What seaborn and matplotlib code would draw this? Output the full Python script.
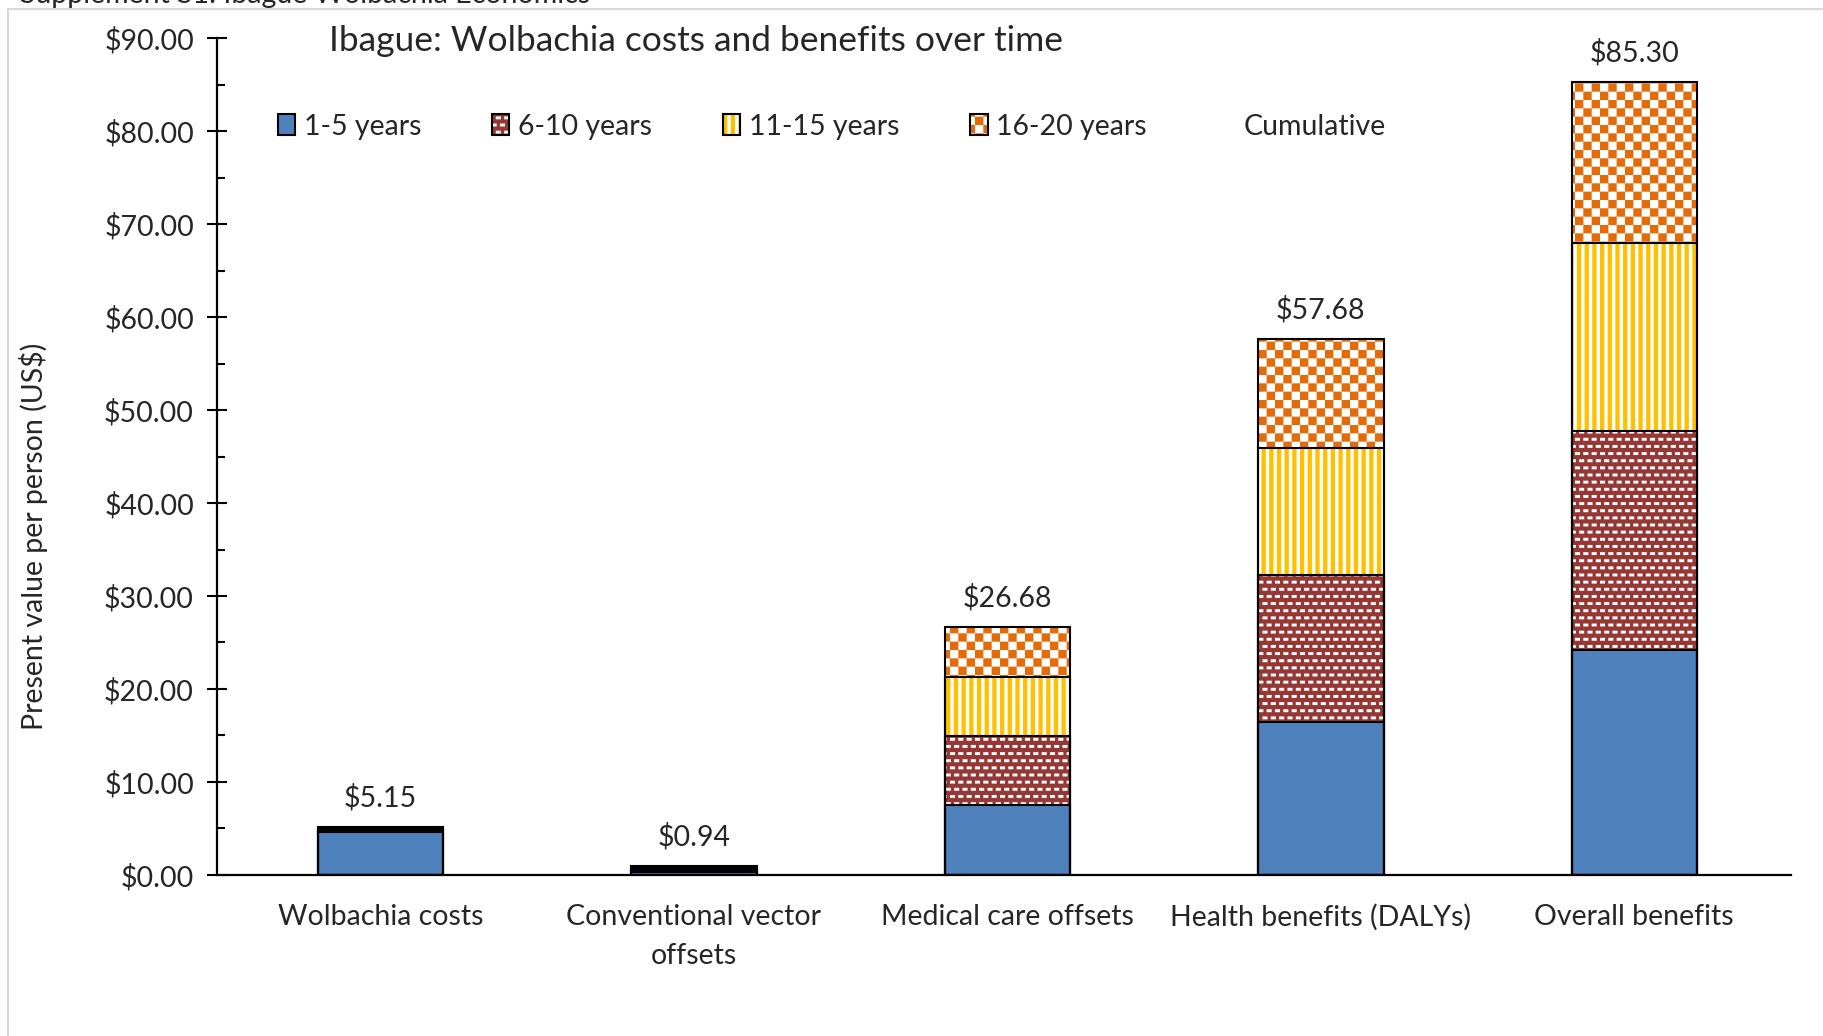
import numpy as np
import pandas as pd
import matplotlib
matplotlib.use("Agg")
import matplotlib.pyplot as plt
import matplotlib.hatch as mhatch
from matplotlib.path import Path
from matplotlib.patches import Patch, Rectangle
from matplotlib.legend_handler import HandlerTuple
from matplotlib.ticker import MultipleLocator, FuncFormatter
import seaborn as sns

# ---------------- data ----------------
categories = ["Wolbachia costs", "Conventional vector\noffsets", "Medical care offsets",
              "Health benefits (DALYs)", "Overall benefits"]
period_labels = ["1-5 years", "6-10 years", "11-15 years", "16-20 years"]
yrs_1_5 = [4.65, 0.30, 7.50, 16.40, 24.20]
yrs_6_10 = [0.20, 0.25, 7.40, 15.90, 23.55]
yrs_11_15 = [0.16, 0.20, 6.40, 13.60, 20.20]
yrs_16_20 = [0.14, 0.19, 5.38, 11.78, 17.35]
extra_legend_label = "Cumulative"
title = "Ibague: Wolbachia costs and benefits over time"
header = "Supplement S1: Ibague Wolbachia Economics"
y_label = "Present value per person (US$)"
y_ticks = [0, 10, 20, 30, 40, 50, 60, 70, 80, 90]


# ---------------- custom filled hatches (checker / stripes / bricks) ----------------
class BlockHatch(mhatch.HatchPatternBase):
    def __init__(self, hatch, density):
        rects = []
        if "c" in hatch:  # checkerboard
            n = 12
            s = 1.0 / n
            for i in range(n):
                for j in range(n):
                    if (i + j) % 2 == 0:
                        rects.append((i * s, j * s, s, s))
        if "v" in hatch:  # vertical stripes
            n = 13
            s = 1.0 / n
            for i in range(n):
                rects.append((i * s, 0.0, s * 0.55, 1.0))
        if "b" in hatch:  # staggered short dashes
            nr, nc = 14, 12
            rh, cw = 1.0 / nr, 1.0 / nc
            for r in range(nr):
                off = 0.0 if r % 2 == 0 else cw / 2
                for c in range(nc):
                    x = c * cw + off
                    w = cw * 0.6
                    y = r * rh + rh * 0.3
                    h = rh * 0.4
                    if x + w > 1.0:
                        rects.append((x, y, 1.0 - x, h))
                        rects.append((0.0, y, x + w - 1.0, h))
                    else:
                        rects.append((x, y, w, h))
        self.rects = rects
        self.num_vertices = 5 * len(rects)

    def set_vertices_and_codes(self, vertices, codes):
        for k, (x, y, w, h) in enumerate(self.rects):
            vertices[5 * k:5 * k + 5] = [(x, y), (x + w, y), (x + w, y + h), (x, y + h), (x, y)]
            codes[5 * k:5 * k + 5] = [Path.MOVETO, Path.LINETO, Path.LINETO, Path.LINETO, Path.CLOSEPOLY]


mhatch._hatch_types.append(BlockHatch)
mhatch._validate_hatch_pattern = lambda hatch: None

# ---------------- style ----------------
sns.set_style("white")
plt.rcParams["font.family"] = ["Lato", "DejaVu Sans"]
plt.rcParams["hatch.linewidth"] = 0.05
FS = 20.5

W, H = 1824, 1036
fig = plt.figure(figsize=(W / 100, H / 100), dpi=100)
ax_left, ax_right = 217.5 / W, 1791 / W
ax_bottom, ax_top = 1 - 874.8 / H, 1 - 38.4 / H
ax = fig.add_axes([ax_left, ax_bottom, ax_right - ax_left, ax_top - ax_bottom])

series = [yrs_1_5, yrs_6_10, yrs_11_15, yrs_16_20]
cum = np.cumsum(np.array(series), axis=0)

styles = [
    dict(color="#4F81BD", hatch=None, hcolor="#4F81BD"),
    dict(color="#953735", hatch="b", hcolor="white"),
    dict(color="white", hatch="v", hcolor="#FFC000"),
    dict(color="white", hatch="c", hcolor="#E36C09"),
]
BAR_W = 0.4

fill_conts = [None] * 4
for k in range(3, -1, -1):
    df = pd.DataFrame({"category": categories, "value": cum[k]})
    st = styles[k]
    sns.barplot(data=df, x="category", y="value", order=categories, color=st["color"],
                saturation=1, width=BAR_W, errorbar=None, hatch=st["hatch"],
                edgecolor=st["hcolor"], linewidth=0, ax=ax)
    fill_conts[k] = ax.containers[-1]

outline_conts = [None] * 4
for k in range(4):
    df = pd.DataFrame({"category": categories, "value": cum[k]})
    sns.barplot(data=df, x="category", y="value", order=categories, color="black",
                fill=False, width=BAR_W, errorbar=None, linewidth=1.5, ax=ax)
    outline_conts[k] = ax.containers[-1]

# totals labels
ax.bar_label(outline_conts[3], labels=[f"${v:.2f}" for v in cum[3]], padding=11, fontsize=FS)

# axes styling
ax.set_xlim(-0.52, 4.5)
ax.set_ylim(0, 90)
ax.set_yticks(y_ticks)
ax.yaxis.set_major_formatter(FuncFormatter(lambda v, p: f"${v:.2f}"))
ax.yaxis.set_minor_locator(MultipleLocator(5))
for s in ["top", "right"]:
    ax.spines[s].set_visible(False)
for s in ["left", "bottom"]:
    ax.spines[s].set_color("black")
    ax.spines[s].set_linewidth(1.6)
ax.tick_params(axis="y", which="major", direction="inout", length=14, width=1.5,
               pad=10, labelsize=FS, left=True, color="black")
ax.tick_params(axis="y", which="minor", direction="in", length=5.5, width=1.5, left=True, color="black")
ax.tick_params(axis="x", length=0, pad=21, labelsize=FS)
for lbl in ax.get_xticklabels():
    lbl.set_linespacing(1.6)
ax.set_xlabel("")
ax.set_ylabel(y_label, fontsize=FS)
ax.yaxis.set_label_coords((48 - 217.5) / (1791 - 217.5), 0.405)

# title and header
fig.text(329 / W, 1 - 40.7 / H, title, fontsize=25.5, ha="left", va="center")
fig.text(20 / W, 1 - 3 / H, header, fontsize=FS, ha="left", va="baseline")

# legend
handles = [(fill_conts[k].patches[0], outline_conts[k].patches[0]) for k in range(4)]
handles.append(Patch(facecolor="none", edgecolor="none"))
labels = period_labels + [extra_legend_label]
fig.legend(handles, labels, handler_map={tuple: HandlerTuple(ndivide=1, pad=0)},
           loc="center left", bbox_to_anchor=(278 / W, 1 - 126.8 / H), ncol=5, frameon=False,
           fontsize=FS, handlelength=0.6, handleheight=0.75, handletextpad=0.3,
           columnspacing=2.5, borderpad=0, borderaxespad=0)

# outer chart-area border (light gray)
fig.add_artist(Rectangle((8 / W, -0.1), 1.2, (1 - 9.5 / H) + 0.1, transform=fig.transFigure,
                         fill=False, edgecolor="#d9d9d9", linewidth=1.5))

fig.savefig("out.png", dpi=100)
